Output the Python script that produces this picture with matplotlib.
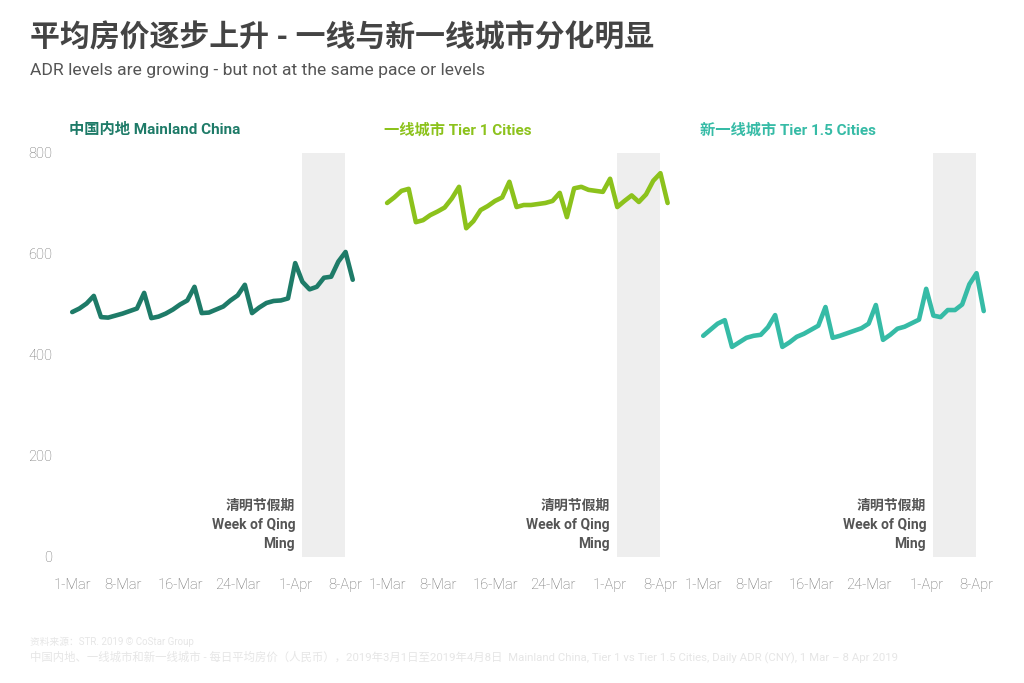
import numpy as np
import matplotlib
matplotlib.use("Agg")
import matplotlib.pyplot as plt

plt.rcParams['font.family'] = ['Roboto', 'Noto Sans CJK SC', 'DejaVu Sans']

# daily ADR, 1-Mar .. 9-Apr 2019
days = np.arange(40)
mainland = [485, 492, 502, 517, 475, 474, 478, 482, 487, 492,
            523, 473, 476, 482, 490, 500, 508, 535, 483, 484,
            490, 496, 508, 518, 539, 483, 494, 503, 507, 508,
            512, 582, 545, 530, 535, 553, 555, 585, 604, 549]
tier1 = [701, 712, 725, 729, 663, 667, 677, 684, 692, 710,
         733, 651, 665, 687, 695, 705, 712, 743, 693, 697,
         697, 699, 701, 705, 721, 673, 730, 733, 727, 725,
         723, 749, 693, 705, 716, 703, 718, 745, 760, 701]
tier15 = [438, 450, 462, 469, 416, 425, 434, 438, 440, 455,
          479, 416, 425, 436, 442, 450, 458, 495, 434, 438,
          443, 448, 453, 462, 499, 430, 440, 452, 456, 463,
          470, 531, 478, 475, 489, 489, 500, 540, 562, 487]

tick_pos = [0, 7, 15, 23, 31, 38]
tick_labels = ["1-Mar", "8-Mar", "16-Mar", "24-Mar", "1-Apr", "8-Apr"]
y_ticks = [0, 200, 400, 600, 800]

panels = [
    ("中国内地 Mainland China", mainland, "#1e7b68", 0.0635),
    ("一线城市 Tier 1 Cities", tier1, "#8cc21c", 0.371),
    ("新一线城市 Tier 1.5 Cities", tier15, "#36bba6", 0.6797),
]
holiday = (31.9, 37.9)

fig = plt.figure(figsize=(10.24, 6.83), dpi=100)

for i, (name, vals, color, left) in enumerate(panels):
    ax = fig.add_axes([left, 0.1845, 0.288, 0.5915])
    ax.axvspan(holiday[0], holiday[1], color="#eeeeee", lw=0, zorder=0)
    ax.plot(days, vals, color=color, lw=3.3, solid_capstyle="round",
            solid_joinstyle="round", zorder=2)
    ax.set_xlim(-1, 40)
    ax.set_ylim(0, 800)
    for s in ax.spines.values():
        s.set_visible(False)
    ax.set_xticks(tick_pos)
    ax.set_xticklabels(tick_labels)
    ax.set_yticks(y_ticks)
    if i == 0:
        ax.set_yticklabels([str(v) for v in y_ticks])
    else:
        ax.set_yticklabels([])
    ax.tick_params(length=0, labelsize=10.5, labelcolor="#6f6f6f")
    ax.tick_params(axis="x", pad=15)
    ax.tick_params(axis="y", pad=9)
    for lab in ax.get_xticklabels() + ax.get_yticklabels():
        lab.set_fontweight("light")
    ax.text(-0.5, 845, name, color=color, fontsize=11, fontweight="bold",
            ha="left", va="center", clip_on=False)
    ax.text(31, 12, "清明节假期\nWeek of Qing\nMing", ha="right", va="bottom",
            fontsize=10, fontweight="bold", color="#555555", linespacing=1.45)

fig.text(0.029, 0.944, "平均房价逐步上升 - 一线与新一线城市分化明显",
         fontsize=21.5, fontweight="bold", color="#444444", va="center")
fig.text(0.029, 0.897, "ADR levels are growing - but not at the same pace or levels",
         fontsize=12.6, color="#555555", va="center")

fig.text(0.029, 0.061, "资料来源：STR. 2019 © CoStar Group",
         fontsize=7, color="#e6e6e6", va="center")
fig.text(0.029, 0.038, "中国内地、一线城市和新一线城市 - 每日平均房价（人民币），2019年3月1日至2019年4月8日"
         "  Mainland China, Tier 1 vs Tier 1.5 Cities, Daily ADR (CNY), 1 Mar – 8 Apr 2019",
         fontsize=8.2, color="#e6e6e6", va="center")

fig.savefig("out.png", dpi=100, facecolor="white")
